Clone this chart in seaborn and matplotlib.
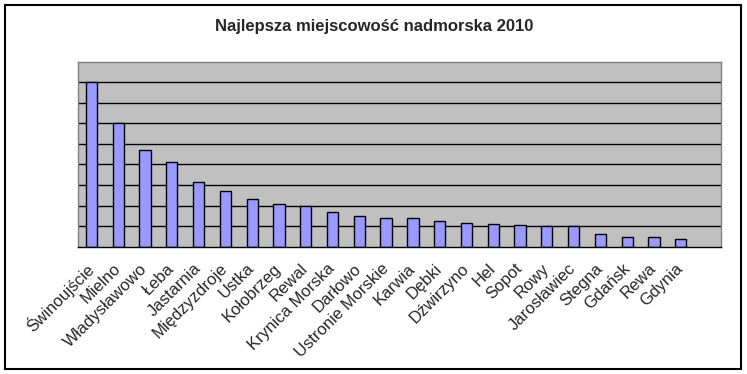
import numpy as np
import pandas as pd
import seaborn as sns
import matplotlib.pyplot as plt
from matplotlib.patches import Rectangle

miejscowosci = ["Świnoujście", "Mielno", "Władysławowo", "Łeba", "Jastarnia",
                "Międzyzdroje", "Ustka", "Kołobrzeg", "Rewal", "Krynica Morska",
                "Darłowo", "Ustronie Morskie", "Karwia", "Dębki", "Dźwirzyno",
                "Hel", "Sopot", "Rowy", "Jarosławiec", "Stegna", "Gdańsk",
                "Rewa", "Gdynia"]
wyniki = [8.0, 6.0, 4.7, 4.1, 3.13, 2.69, 2.3, 2.06, 2.0, 1.67,
          1.49, 1.38, 1.38, 1.23, 1.13, 1.09, 1.04, 1.0, 1.0, 0.6,
          0.46, 0.46, 0.36]
tytul = "Najlepsza miejscowość nadmorska 2010"

df = pd.DataFrame({"miejscowosc": miejscowosci, "wynik": wyniki})

sns.set_style("white")
plt.rcParams['font.family'] = ['Liberation Sans', 'DejaVu Sans']

fig = plt.figure(figsize=(7.47, 3.74), dpi=100)
ax = fig.add_axes([78/747, 1-246.7/374, 643/747, 185/374])

sns.barplot(data=df, x="miejscowosc", y="wynik", color="#9999FF", saturation=1,
            edgecolor="black", linewidth=1, width=0.42, ax=ax)

ax.set_facecolor("#C0C0C0")
ax.set_xlim(-0.5, 23.5)
ax.set_ylim(0, 9)
ax.set_yticks(range(1, 9))
ax.set_yticklabels([])
ax.tick_params(axis="y", length=0)
ax.yaxis.grid(True, color="black", linewidth=1)
ax.set_axisbelow(True)

# ticks between categories, Excel style
ax.set_xticks(np.arange(-0.5, 24, 1), minor=True)
ax.tick_params(axis="x", which="minor", length=5, width=1, color="black", direction="out")
ax.tick_params(axis="x", which="major", length=0, pad=14)
ax.set_xticklabels(miejscowosci, rotation=45, ha="right", rotation_mode="anchor",
                   fontsize=12, va="center")
ax.set_xlabel("")
ax.set_ylabel("")

for s in ["top", "left", "right"]:
    ax.spines[s].set_color("#808080")
    ax.spines[s].set_linewidth(1)
ax.spines["bottom"].set_color("black")
ax.spines["bottom"].set_linewidth(1)

fig.text(374/747, 1-27/374, tytul, ha="center", va="center", fontsize=12, fontweight="bold")

fig.patches.append(Rectangle((5/747, 5/374), 736/747, 364/374, transform=fig.transFigure,
                             fill=False, edgecolor="black", linewidth=1.5))

fig.savefig("out.png", dpi=100)
